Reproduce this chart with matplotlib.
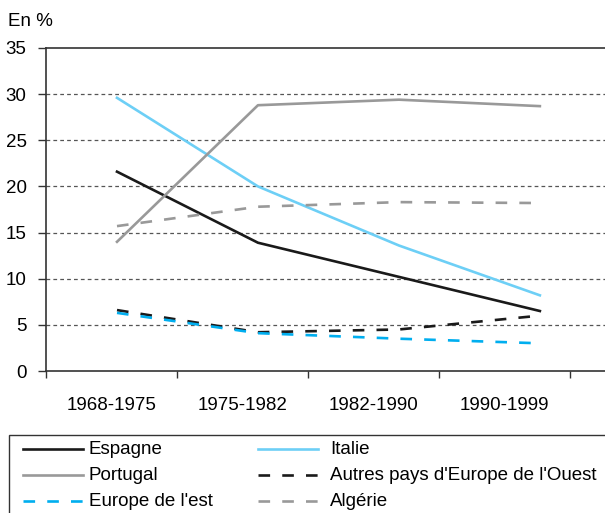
import matplotlib
matplotlib.use("Agg")
import matplotlib.pyplot as plt
from matplotlib.lines import Line2D
from matplotlib.patches import Rectangle
import numpy as np

plt.rcParams['font.family'] = ['Liberation Sans', 'DejaVu Sans']

categories = ["1968-1975", "1975-1982", "1982-1990", "1990-1999"]
espagne = [21.6, 13.9, 10.2, 6.5]
italie = [29.6, 20.0, 13.6, 8.2]
portugal = [14.0, 28.8, 29.4, 28.7]
autres_ouest = [6.6, 4.2, 4.5, 6.0]
europe_est = [6.3, 4.1, 3.5, 3.0]
algerie = [15.7, 17.8, 18.3, 18.2]
yticks = [0, 5, 10, 15, 20, 25, 30, 35]

series = [
    ("Espagne", espagne, "#1a1a1a", "-"),
    ("Italie", italie, "#6dcff6", "-"),
    ("Portugal", portugal, "#999999", "-"),
    ("Autres pays d'Europe de l'Ouest", autres_ouest, "#1a1a1a", "--"),
    ("Europe de l'est", europe_est, "#00aeef", "--"),
    ("Algérie", algerie, "#999999", "--"),
]

FS = 13.5
LW = 1.9
DASH = (4.4, 4.6)

W, H = 605, 513
fig = plt.figure(figsize=(W / 100, H / 100), dpi=100)
ax = fig.add_axes([46 / W, (H - 371) / H, 1 - 46 / W, (371 - 48) / H])

# data points are spread slightly wider than the category slots
xpos = 0.542 + 1.076 * np.arange(len(categories))
for name, vals, col, ls in series:
    ln, = ax.plot(xpos, vals, color=col, lw=LW, label=name, zorder=3)
    if ls == "--":
        ln.set_dashes(DASH)

ax.set_xlim(0, (W - 46) / 131)
ax.set_ylim(0, 35)
ax.set_yticks(yticks)
ax.set_yticklabels([str(v) for v in yticks], fontsize=FS)
ax.set_xticks(np.arange(0, 5))
ax.set_xticklabels([])
ax.set_xticks(np.arange(len(categories)) + 0.5, minor=True)
ax.set_xticklabels(categories, minor=True, fontsize=FS)
ax.tick_params(axis='x', which='minor', length=0, pad=19)
ax.tick_params(axis='x', which='major', length=5, width=1, color="#333333")
ax.tick_params(axis='y', length=6, width=1, color="#333333", pad=8)

for yv in yticks[1:-1]:
    ax.axhline(yv, color="#555555", lw=0.9, ls=(0, (3, 2.5)), zorder=1)

for s in ["left", "bottom", "top"]:
    ax.spines[s].set_color("#333333")
    ax.spines[s].set_linewidth(1.2)
ax.spines["right"].set_visible(False)

fig.text(8 / W, 1 - 21 / H, "En %", fontsize=FS, va="center", ha="left")

# legend box
fig.patches.append(Rectangle((9 / W, -0.01), 1, (H - 435) / H + 0.01, transform=fig.transFigure,
                             fill=False, edgecolor="#333333", lw=1.0))
rows = [449, 475, 501]
cols = [(23, 83, 89), (258, 318, 330)]
order = [(0, 0, 0), (1, 0, 1), (2, 1, 0), (3, 1, 1), (4, 2, 0), (5, 2, 1)]
for idx, r, c in order:
    name, vals, col, ls = series[idx]
    x0, x1, xt = cols[c]
    yy = 1 - rows[r] / H
    l = Line2D([x0 / W, x1 / W], [yy, yy], transform=fig.transFigure, color=col, lw=LW)
    if ls == "--":
        l.set_dashes(DASH)
    fig.lines.append(l)
    fig.text(xt / W, yy, name, fontsize=FS, va="center", ha="left")

fig.savefig("out.png", dpi=100)
